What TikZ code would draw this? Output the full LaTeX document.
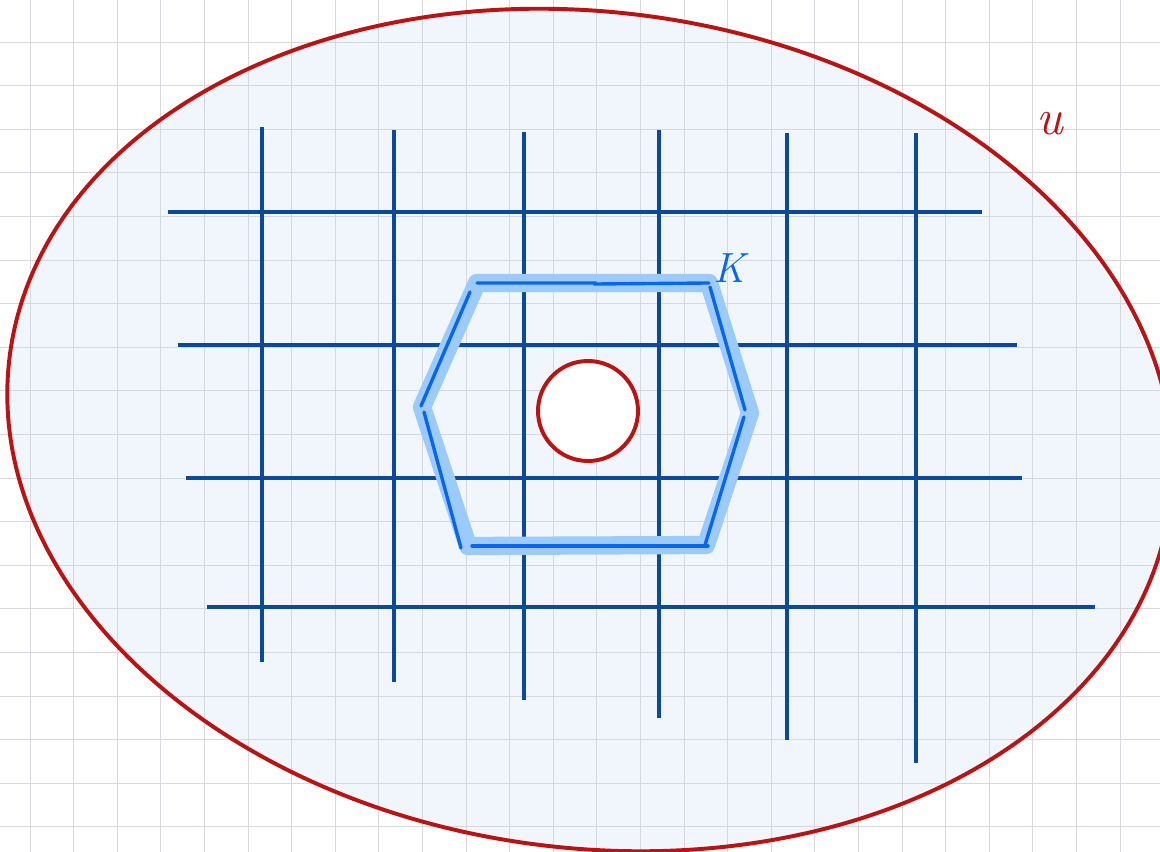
\documentclass[tikz,border=0pt]{standalone}
\usetikzlibrary{positioning}
\definecolor{setred}{HTML}{B81414}
\definecolor{meshblue}{HTML}{0B4A9A}
\definecolor{glowblue}{HTML}{9CCBFA}
\definecolor{edgeblue}{HTML}{0A66E8}
\definecolor{wash}{HTML}{F1F6FD}
\definecolor{rule}{HTML}{D6D8DE}

\begin{document}
\begin{tikzpicture}[
  x=0.025cm,
  y=-0.025cm,
  paper/.style={draw=rule,line width=0.7pt},
  mesh/.style={draw=meshblue,line width=2.6pt},
  glow/.style={draw=glowblue,line width=13pt,line join=round,line cap=round},
  edge/.style={draw=edgeblue,line width=2.4pt,line cap=round},
  rim/.style={draw=setred,line width=2.8pt},
  tag/.style={font=\fontsize{36}{36}\selectfont\itshape,inner sep=0pt}
]
\useasboundingbox (0,0) rectangle (1160,852);
\fill[white] (0,0) rectangle (1160,852);

% the region u
\fill[wash,rotate around={-7.3:(590,430)}] (590,430) ellipse [x radius=585, y radius=418];

% squared paper
\foreach \gx in {0,...,26}
  \draw[paper] (30+43.6*\gx,0) -- (30+43.6*\gx,852);
\foreach \gy in {0,...,18}
  \draw[paper] (0,42+43.6*\gy) -- (1160,42+43.6*\gy);

\draw[rim,rotate around={-7.3:(590,430)}] (590,430) ellipse [x radius=585, y radius=418];

% the mesh
\foreach \mx/\ma/\mb in {262/127/662,394/130/682,524/132/700,659/130/718,787/133/740,916/133/763}
  \draw[mesh] (\mx,\ma) -- (\mx,\mb);
\foreach \my/\ma/\mb in {212/168/982,345/178/1017,478/186/1022,607/207/1095}
  \draw[mesh] (\ma,\my) -- (\mb,\my);

% the set K
\coordinate (k1) at (477,283);
\coordinate (k2) at (709,283);
\coordinate (k3) at (750,413);
\coordinate (k4) at (706,545);
\coordinate (k5) at (468,546);
\coordinate (k6) at (422,407);
\draw[glow] (k1) -- (k2) -- (k3) -- (k4) -- (k5) -- (k6) -- cycle;
\draw[edge] (k1) -- (595,283) -- (595,284) -- (k2);
\draw[edge] (710,287) -- (745,410);
\draw[edge] (744,417) -- (705,545);
\draw[edge] (708,546) -- (472,546);
\draw[edge] (461,548) -- (424,412);
\draw[edge] (421,406) -- (470,292);

% the hole
\draw[rim,fill=white] (588,411) circle [radius=50];

\node[tag,text=setred] (u) at (1050,124) {u};
\node[tag,text=edgeblue,font=\fontsize{30}{30}\selectfont\itshape] (K) at (729,268) {K};
\end{tikzpicture}
\end{document}
